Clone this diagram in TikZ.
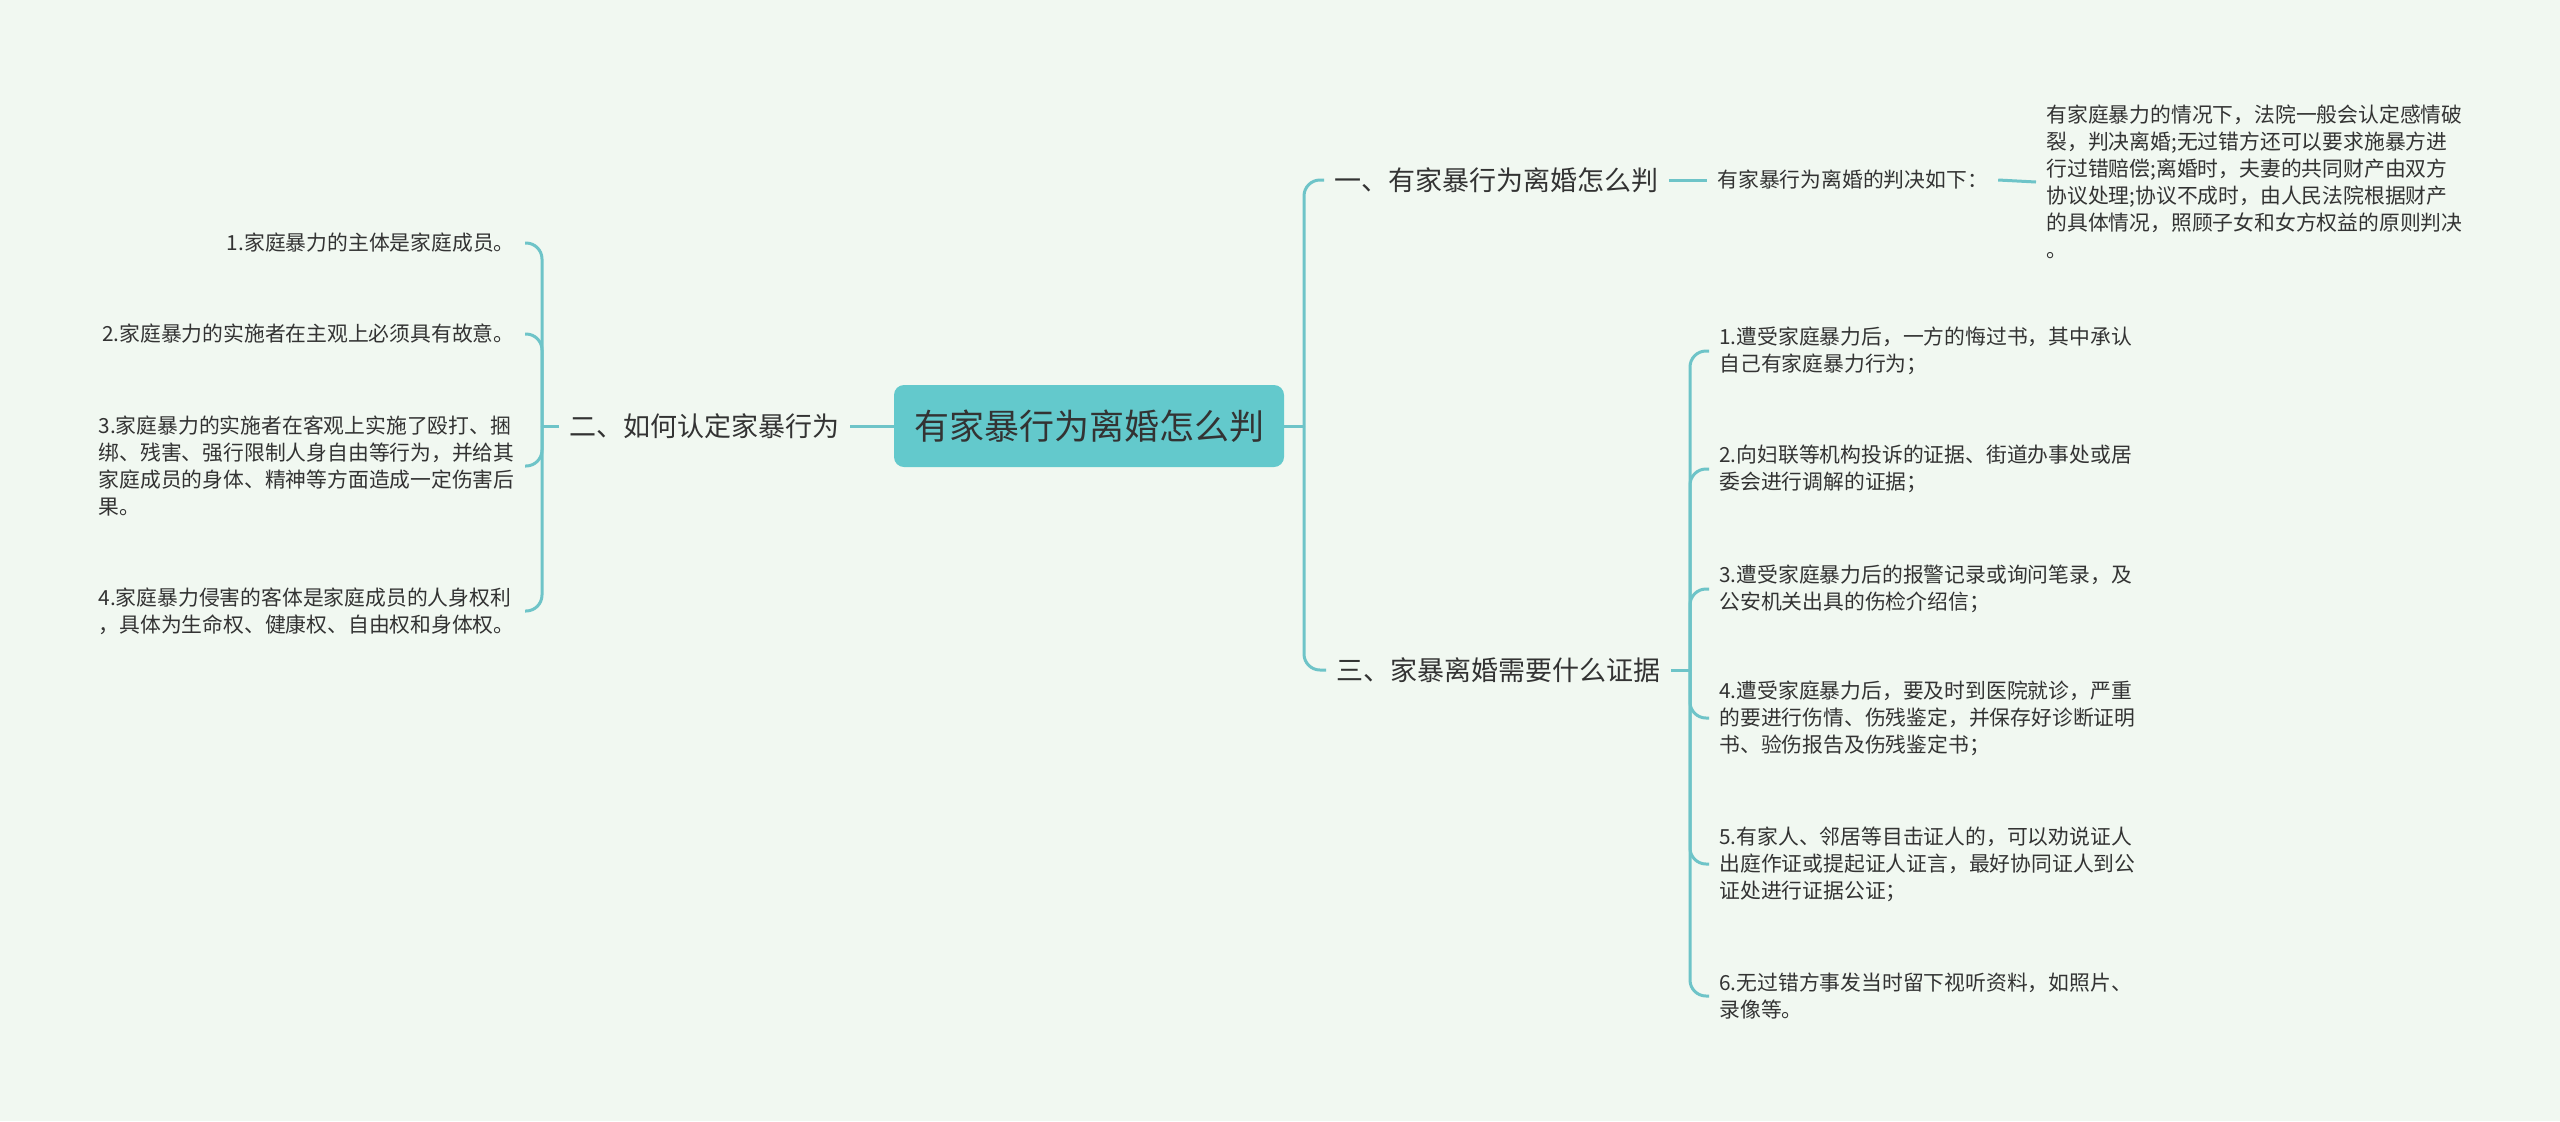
\documentclass[tikz,border=0pt]{standalone}
\usepackage{fontspec}
\setmainfont{Noto Sans CJK SC}

\definecolor{bgmint}{RGB}{241,248,241}
\definecolor{linkteal}{RGB}{110,196,200}
\definecolor{rootteal}{RGB}{99,201,204}
\definecolor{inkgray}{RGB}{51,51,51}

\begin{document}
\begin{tikzpicture}[
    x=0.5pt, y=-0.5pt,
    root/.style={
        rectangle, rounded corners=5pt, fill=rootteal, text=inkgray,
        minimum width=195pt, minimum height=41pt,
        font=\fontsize{17.5pt}{21pt}\selectfont
    },
    branch/.style={inner sep=5pt, text=inkgray, font=\fontsize{13.5pt}{16pt}\selectfont},
    leaf/.style={inner sep=5pt, text=inkgray, align=left, font=\fontsize{10.4pt}{13.5pt}\selectfont},
    link/.style={draw=linkteal, line width=1.5pt, rounded corners=8pt}
]

\fill[bgmint] (0,0) rectangle (2560,1121);

\node[root] (root) at (1089,426) {有家暴行为离婚怎么判};

% left side: how domestic violence is recognised
\node[branch, anchor=east] (dingyi) at (850,426) {二、如何认定家暴行为};
\coordinate (hubL) at (542,426);

\node[leaf, anchor=east] (l1) at (525,243) {1.家庭暴力的主体是家庭成员。};
\node[leaf, anchor=east] (l2) at (525,334) {2.家庭暴力的实施者在主观上必须具有故意。};
\node[leaf, anchor=east] (l3) at (525,466) {3.家庭暴力的实施者在客观上实施了殴打、捆\\
    绑、残害、强行限制人身自由等行为，并给其\\
    家庭成员的身体、精神等方面造成一定伤害后\\
    果。};
\node[leaf, anchor=east] (l4) at (525,611) {4.家庭暴力侵害的客体是家庭成员的人身权利\\
    ，具体为生命权、健康权、自由权和身体权。};

% right side
\coordinate (hubR) at (1304,426);
\node[branch, anchor=west] (panjue) at (1324,180) {一、有家暴行为离婚怎么判};
\node[leaf, anchor=west] (rule) at (1707,180) {有家暴行为离婚的判决如下：};
\node[leaf, anchor=west] (detail) at (2036,182) {有家庭暴力的情况下，法院一般会认定感情破\\
    裂，判决离婚;无过错方还可以要求施暴方进\\
    行过错赔偿;离婚时，夫妻的共同财产由双方\\
    协议处理;协议不成时，由人民法院根据财产\\
    的具体情况，照顾子女和女方权益的原则判决\\
    。};

\node[branch, anchor=west] (zhengju) at (1326,670) {三、家暴离婚需要什么证据};
\coordinate (hubE) at (1690,670);

\node[leaf, anchor=west] (e1) at (1709,351) {1.遭受家庭暴力后，一方的悔过书，其中承认\\
    自己有家庭暴力行为；};
\node[leaf, anchor=west] (e2) at (1709,469) {2.向妇联等机构投诉的证据、街道办事处或居\\
    委会进行调解的证据；};
\node[leaf, anchor=west] (e3) at (1709,589) {3.遭受家庭暴力后的报警记录或询问笔录，及\\
    公安机关出具的伤检介绍信；};
\node[leaf, anchor=west] (e4) at (1709,718) {4.遭受家庭暴力后，要及时到医院就诊，严重\\
    的要进行伤情、伤残鉴定，并保存好诊断证明\\
    书、验伤报告及伤残鉴定书；};
\node[leaf, anchor=west] (e5) at (1709,864) {5.有家人、邻居等目击证人的，可以劝说证人\\
    出庭作证或提起证人证言，最好协同证人到公\\
    证处进行证据公证；};
\node[leaf, anchor=west] (e6) at (1709,996) {6.无过错方事发当时留下视听资料，如照片、\\
    录像等。};

% connectors
\draw[link] (root.west) -- (dingyi.east);
\draw[link] (dingyi.west) -- (hubL);
\draw[link] (hubL) |- (l1.east);
\draw[link] (hubL) |- (l2.east);
\draw[link] (hubL) |- (l3.east);
\draw[link] (hubL) |- (l4.east);

\draw[link] (root.east) -- (hubR);
\draw[link] (hubR) |- (panjue.west);
\draw[link] (hubR) |- (zhengju.west);
\draw[link] (panjue.east) -- (rule.west);
\draw[link] (rule.east) -- (detail.west);
\draw[link] (zhengju.east) -- (hubE);
\draw[link] (hubE) |- (e1.west);
\draw[link] (hubE) |- (e2.west);
\draw[link] (hubE) |- (e3.west);
\draw[link] (hubE) |- (e4.west);
\draw[link] (hubE) |- (e5.west);
\draw[link] (hubE) |- (e6.west);

\end{tikzpicture}
\end{document}
